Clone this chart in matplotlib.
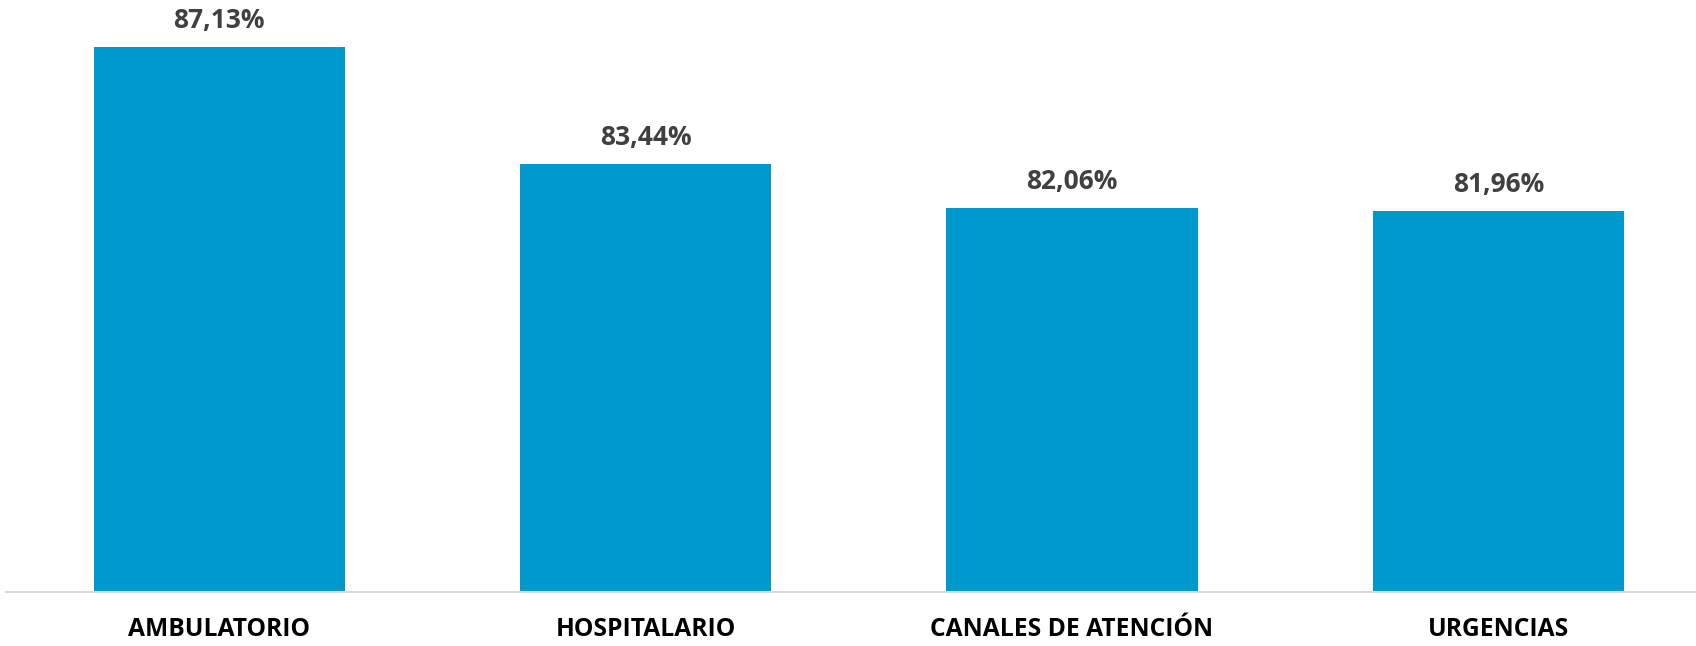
import matplotlib.pyplot as plt

# datos
categorias = ['AMBULATORIO', 'HOSPITALARIO', 'CANALES DE ATENCIÓN', 'URGENCIAS']
valores = [87.13, 83.44, 82.06, 81.96]
etiquetas = ['87,13%', '83,44%', '82,06%', '81,96%']

plt.rcParams['font.family'] = ['Open Sans', 'DejaVu Sans']

fig = plt.figure(figsize=(16.96, 6.46), dpi=100)
ax = fig.add_axes([6 / 1696, 54 / 646, 1 - 6 / 1696, 1 - 54 / 646])

x = range(len(categorias))
ax.bar(x, valores, width=0.589, color='#0099CE', bottom=0)
ax.set_ylim(70, 88.6)
ax.set_xlim(-0.5, 3.4635)

for xi, v, t in zip(x, valores, etiquetas):
    ax.annotate(t, (xi, v), xytext=(0, 13.7), textcoords='offset points',
                ha='center', va='baseline', fontsize=19, fontweight='bold',
                color='#404040')

for s in ['top', 'right', 'left']:
    ax.spines[s].set_visible(False)
ax.spines['bottom'].set_color('#D9D9D9')
ax.spines['bottom'].set_linewidth(1.5)
ax.set_yticks([])
ax.set_xticks(list(x))
ax.set_xticklabels(categorias, fontsize=17.7, fontweight='bold', color='black')
ax.tick_params(axis='x', length=0, pad=18)

fig.savefig('out.png', dpi=100)
